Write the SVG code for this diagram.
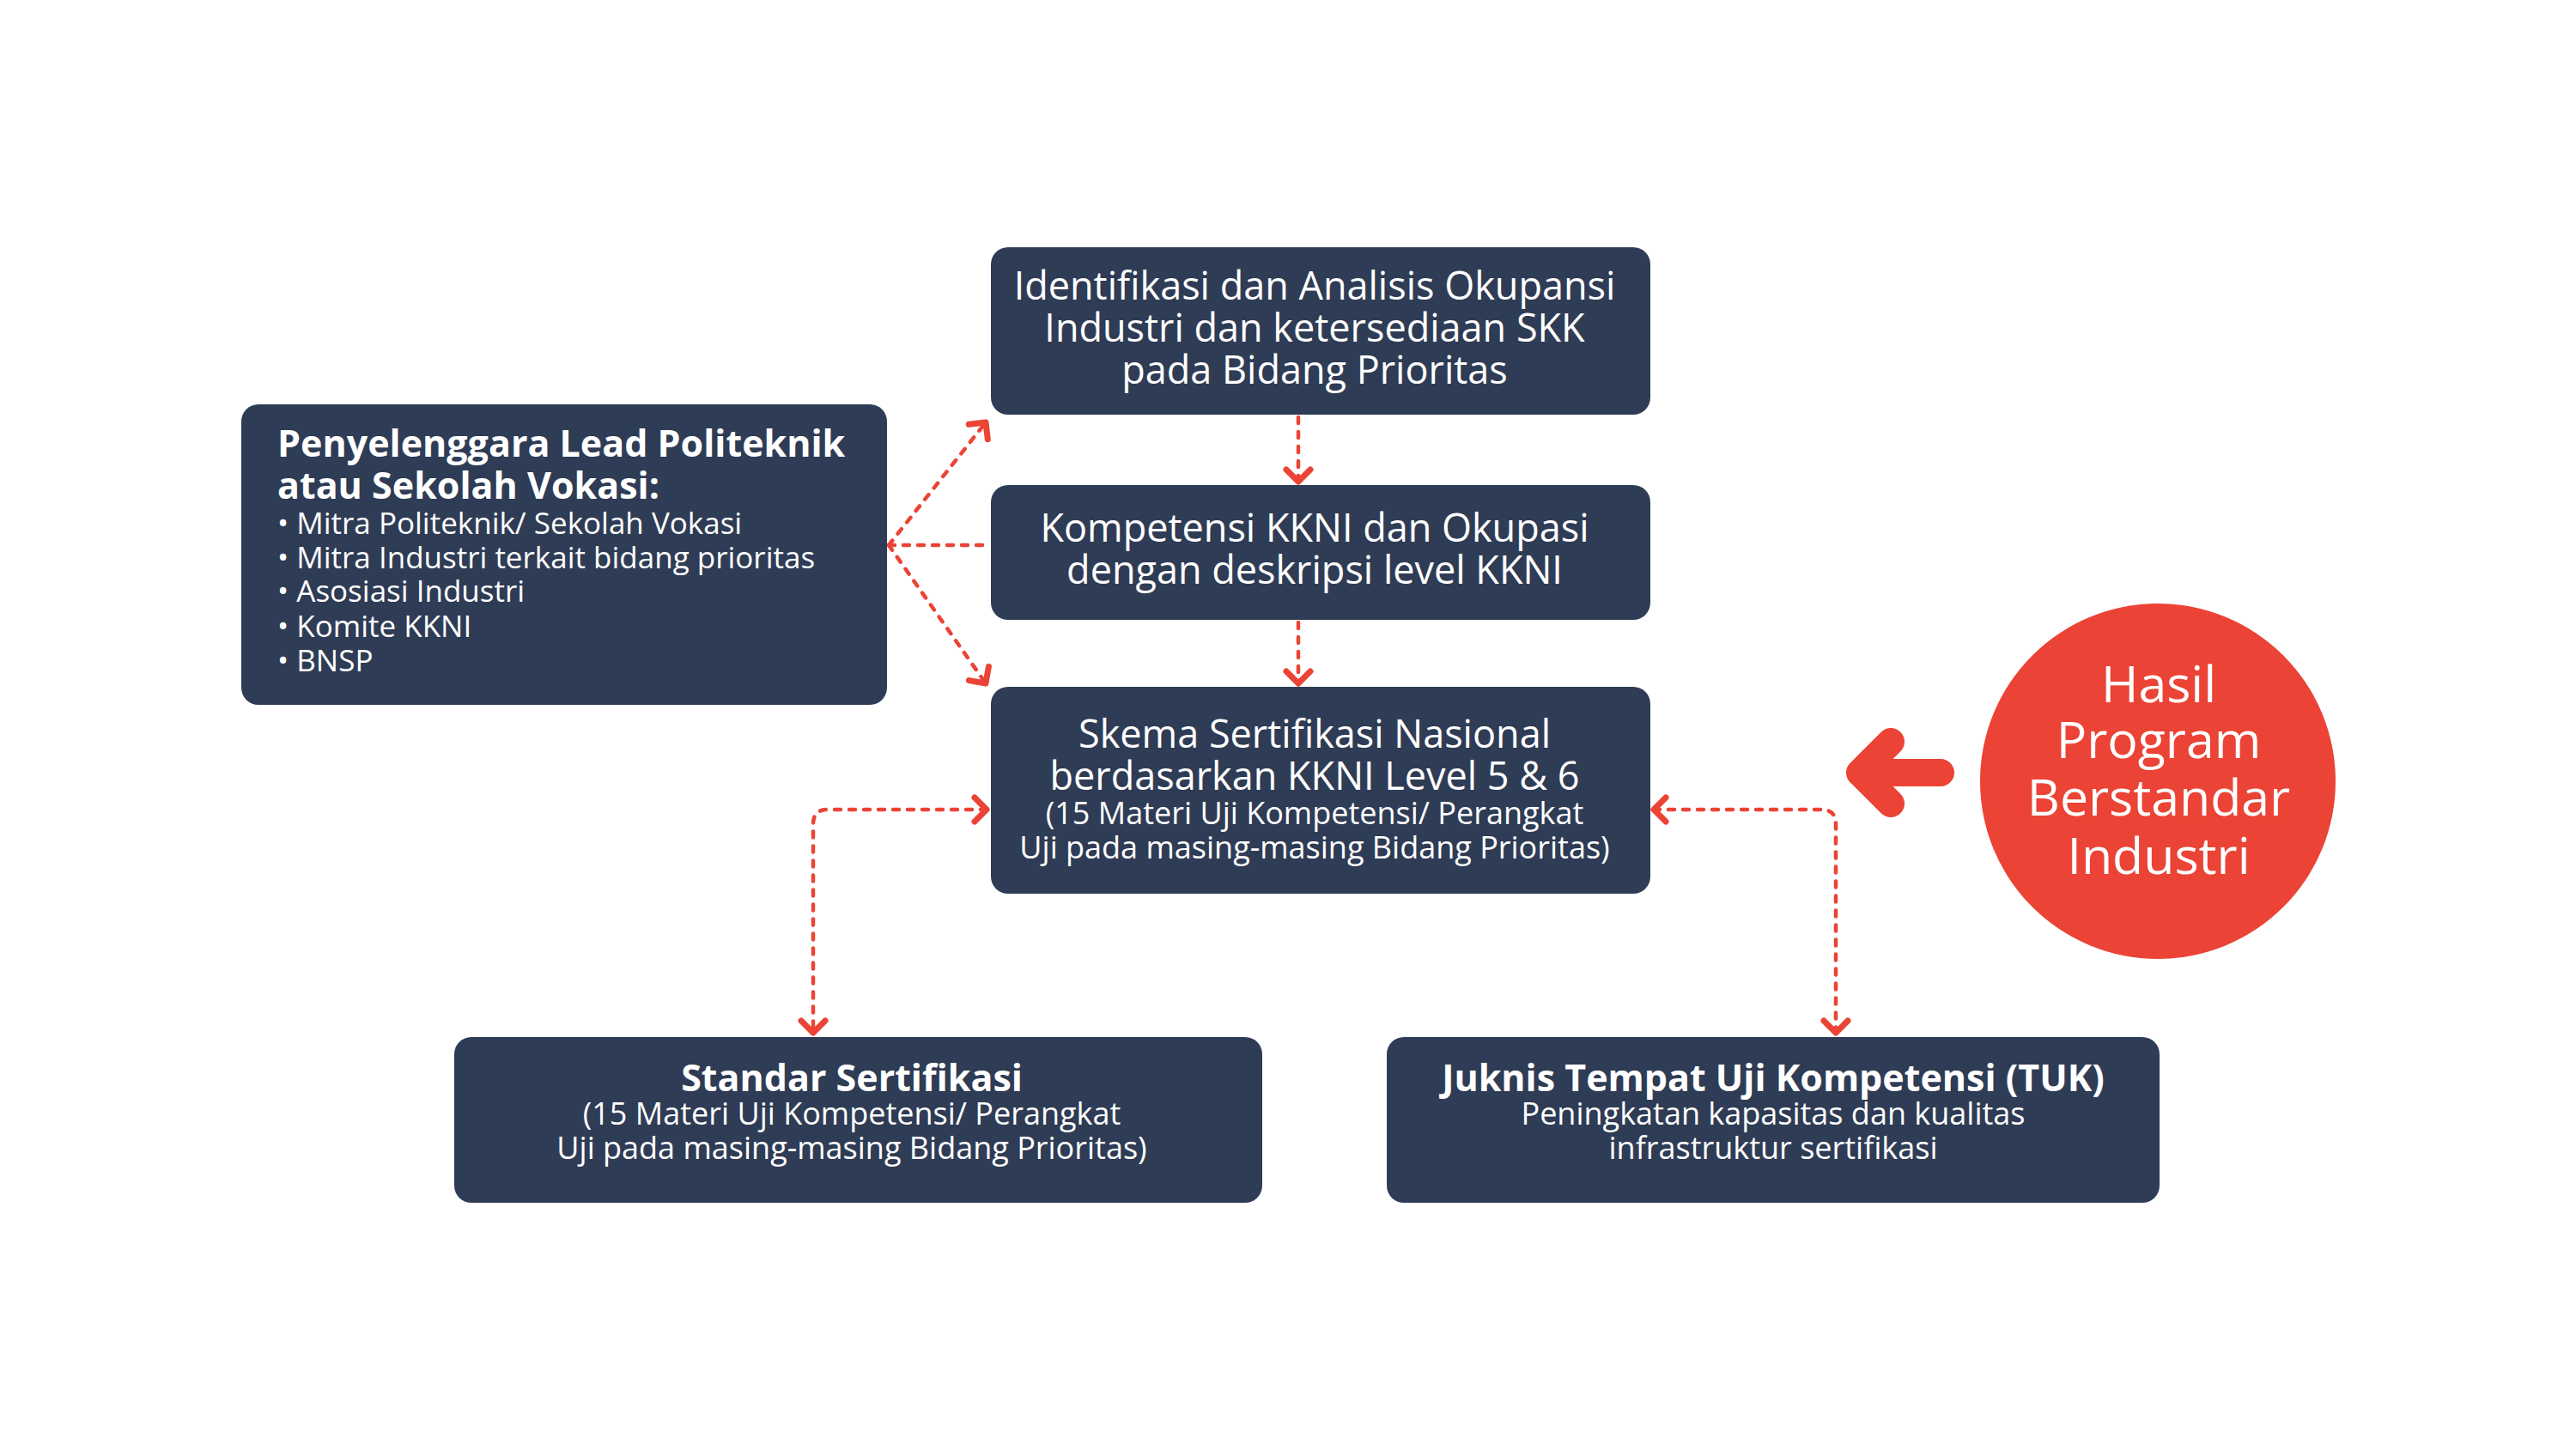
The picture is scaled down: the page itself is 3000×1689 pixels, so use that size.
<svg xmlns="http://www.w3.org/2000/svg" width="3000" height="1689" viewBox="0 0 3000 1689">
<style>
.box{fill:#2F3C55;}
.t{font-family:"Open Sans","Noto Sans",sans-serif;fill:#FFFFFF;}
.big{font-size:45px;text-anchor:middle;}
.sm{font-size:36px;text-anchor:middle;}
.bold{font-size:43px;font-weight:700;}
.bl{font-size:35px;}
.circ{font-size:59px;text-anchor:middle;}
.con{fill:none;stroke:#EB4335;stroke-width:4.5;stroke-dasharray:7 10;stroke-linecap:round;}
</style>
<defs>
<marker id="ah" markerUnits="userSpaceOnUse" viewBox="-20 -20 30 40" markerWidth="30" markerHeight="40" refX="0" refY="0" orient="auto-start-reverse" overflow="visible">
<path d="M-14 -14 L0 0 L-14 14" fill="none" stroke="#EB4335" stroke-width="7" stroke-linecap="round" stroke-linejoin="round"/>
</marker>
</defs>
<rect width="3000" height="1689" fill="#FFFFFF"/>
<g id="connectors">
<path class="con" d="M1512 486 L1512 561" marker-end="url(#ah)"/>
<path class="con" d="M1512 725 L1512 796" marker-end="url(#ah)"/>
<path class="con" d="M1035 635 L1148 492" marker-end="url(#ah)"/>
<path class="con" d="M1035 635 L1153 635"/>
<path class="con" d="M1035 635 L1148 796" marker-end="url(#ah)"/>
<path class="con" d="M1149 943 L964 943 Q947 943 947 960 L947 1203" marker-start="url(#ah)" marker-end="url(#ah)"/>
<path class="con" d="M1926 943 L2121 943 Q2138 943 2138 960 L2138 1203" marker-start="url(#ah)" marker-end="url(#ah)"/>
</g>
<g id="node-penyelenggara">
<rect class="box" x="281" y="471" width="752" height="350" rx="20"/>
<text class="t bold" x="323" y="532">Penyelenggara Lead Politeknik</text>
<text class="t bold" x="323" y="581">atau Sekolah Vokasi:</text>
<text class="t bl" x="323" y="622">• Mitra Politeknik/ Sekolah Vokasi</text>
<text class="t bl" x="323" y="662">• Mitra Industri terkait bidang prioritas</text>
<text class="t bl" x="323" y="701">• Asosiasi Industri</text>
<text class="t bl" x="323" y="742">• Komite KKNI</text>
<text class="t bl" x="323" y="782">• BNSP</text>
</g>
<g id="node-identifikasi">
<rect class="box" x="1154" y="288" width="768" height="195" rx="20"/>
<text class="t big" x="1531" y="349">Identifikasi dan Analisis Okupansi</text>
<text class="t big" x="1531" y="398">Industri dan ketersediaan SKK</text>
<text class="t big" x="1531" y="447">pada Bidang Prioritas</text>
</g>
<g id="node-kompetensi">
<rect class="box" x="1154" y="565" width="768" height="157" rx="20"/>
<text class="t big" x="1531" y="631">Kompetensi KKNI dan Okupasi</text>
<text class="t big" x="1531" y="680">dengan deskripsi level KKNI</text>
</g>
<g id="node-skema">
<rect class="box" x="1154" y="800" width="768" height="241" rx="20"/>
<text class="t big" x="1531" y="871">Skema Sertifikasi Nasional</text>
<text class="t big" x="1531" y="920">berdasarkan KKNI Level 5 &amp; 6</text>
<text class="t sm" x="1531" y="960">(15 Materi Uji Kompetensi/ Perangkat</text>
<text class="t sm" x="1531" y="1000">Uji pada masing-masing Bidang Prioritas)</text>
</g>
<g id="node-standar">
<rect class="box" x="529" y="1208" width="941" height="193" rx="20"/>
<text class="t bold" x="992" y="1271" text-anchor="middle">Standar Sertifikasi</text>
<text class="t sm" x="992" y="1310">(15 Materi Uji Kompetensi/ Perangkat</text>
<text class="t sm" x="992" y="1350">Uji pada masing-masing Bidang Prioritas)</text>
</g>
<g id="node-juknis">
<rect class="box" x="1615" y="1208" width="900" height="193" rx="20"/>
<text class="t bold" x="2065" y="1271" text-anchor="middle">Juknis Tempat Uji Kompetensi (TUK)</text>
<text class="t sm" x="2065" y="1310">Peningkatan kapasitas dan kualitas</text>
<text class="t sm" x="2065" y="1350">infrastruktur sertifikasi</text>
</g>
<g id="node-hasil">
<circle cx="2513" cy="910" r="207" fill="#EB4335"/>
<text class="t circ" x="2514" y="818">Hasil</text>
<text class="t circ" x="2514" y="883">Program</text>
<text class="t circ" x="2514" y="950">Berstandar</text>
<text class="t circ" x="2514" y="1018">Industri</text>
</g>
<g id="big-arrow">
<path d="M2260 900 L2166 900 M2202 864 L2166 900 L2202 936" fill="none" stroke="#EB4335" stroke-width="32" stroke-linecap="round" stroke-linejoin="round"/>
</g>
</svg>
